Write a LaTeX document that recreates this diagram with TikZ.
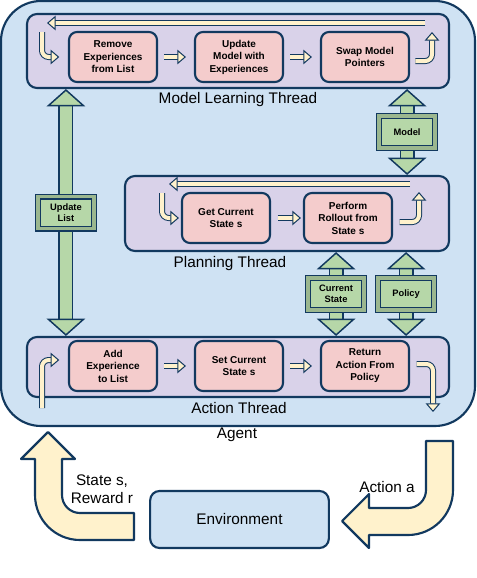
\documentclass[tikz,border=0pt]{standalone}
\usepackage{fontspec}
\setmainfont{Liberation Sans}
\usetikzlibrary{arrows.meta,positioning}

\definecolor{edgeblue}{HTML}{12395F}
\definecolor{agentblue}{HTML}{CFE2F3}
\definecolor{threadlilac}{HTML}{D9D2E9}
\definecolor{taskpink}{HTML}{F4CCCC}
\definecolor{datagreen}{HTML}{B6D7A8}
\definecolor{flowcream}{HTML}{FFF2CC}

\tikzset{
  agentbox/.style={draw=edgeblue, line width=1.6pt, fill=agentblue, rounded corners=30pt, inner sep=0pt},
  threadbox/.style={draw=edgeblue, line width=1.6pt, fill=threadlilac, rounded corners=7.5pt, inner sep=0pt},
  taskbox/.style={draw=edgeblue, line width=1.6pt, fill=taskpink, rounded corners=6pt,
    minimum width=66pt, minimum height=37.5pt, inner sep=1pt, align=center,
    font=\fontsize{7.5}{9.4}\selectfont\bfseries},
  databox/.style={draw=edgeblue, line width=1pt, double=datagreen!85!black, double distance=2.5pt,
    fill=datagreen, minimum width=42pt, minimum height=24pt, inner sep=1pt, align=center,
    font=\fontsize{7}{8.5}\selectfont\bfseries},
  envbox/.style={draw=edgeblue, line width=1.6pt, fill=agentblue, rounded corners=7pt,
    minimum width=134pt, minimum height=42.75pt, font=\fontsize{11.5}{13.5}\selectfont},
  threadname/.style={font=\fontsize{11.5}{13.5}\selectfont, inner sep=0pt},
  flow/.style={draw=edgeblue, line width=0.75pt, double=flowcream, double distance=3pt,
    -{Triangle[length=6.5pt, width=11pt, fill=flowcream, line width=0.75pt]}},
  dataflow/.style={draw=edgeblue, line width=1.1pt, double=datagreen, double distance=9pt,
    {Triangle[length=13pt, width=29pt, fill=datagreen, line width=1.1pt]}-{Triangle[length=13pt, width=29pt, fill=datagreen, line width=1.1pt]}},
  bigflow/.style={draw=edgeblue, line width=1.6pt, fill=flowcream, line join=round}
}

\begin{document}
\begin{tikzpicture}[x=0.75pt, y=-0.75pt]
  \useasboundingbox (0,0) rectangle (476,578);

  % agent
  \node[agentbox, minimum width=355.5pt, minimum height=318.75pt] (agent) at (238,213.5) {};
  \node[threadname] (agentname) at (237,435) {Agent};

  % model learning thread
  \node[threadbox, minimum width=316.5pt, minimum height=55.5pt] (mlt) at (238,51) {};
  \node[threadname] (mltname) at (238,100) {Model Learning Thread};
  \node[taskbox] (remove) at (113,57) {Remove\\Experiences\\from List};
  \node[taskbox] (update) at (239,57) {Update\\Model with\\Experiences};
  \node[taskbox] (swap) at (365,57) {Swap Model\\Pointers};
  \draw[flow] ([xshift=4.5pt]remove.east) -- ([xshift=-6pt]update.west);
  \draw[flow] ([xshift=4.5pt]update.east) -- ([xshift=-6pt]swap.west);
  \coordinate (mlt-r) at (432,32);
  \coordinate (mlt-tr) at (425,23);
  \coordinate (mlt-tl) at (47,23);
  \coordinate (mlt-l) at (42,32);
  \draw[flow, rounded corners=5pt] ([xshift=4pt, yshift=-3pt]swap.east) -| (mlt-r);
  \draw[flow] (mlt-tr) -- (mlt-tl);
  \draw[flow, rounded corners=5pt] (mlt-l) |- ([xshift=-6.5pt]remove.west);

  % planning thread
  \node[threadbox, minimum width=243pt, minimum height=56.25pt] (plt) at (287,213.5) {};
  \node[threadname] (pltname) at (230,264) {Planning Thread};
  \node[taskbox] (getstate) at (226,218) {Get Current\\State s};
  \node[taskbox] (rollout) at (348,218) {Perform\\Rollout from\\State s};
  \draw[flow] ([xshift=5pt]getstate.east) -- ([xshift=-1.5pt]rollout.west);
  \coordinate (plt-r) at (419,192);
  \coordinate (plt-tr) at (410,184);
  \coordinate (plt-tl) at (169,184);
  \coordinate (plt-l) at (162,193);
  \draw[flow, rounded corners=5pt] ([xshift=5pt, yshift=-3pt]rollout.east) -| (plt-r);
  \draw[flow] (plt-tr) -- (plt-tl);
  \draw[flow, rounded corners=5pt] (plt-l) |- ([xshift=-1.5pt]getstate.west);

  % action thread
  \node[threadbox, minimum width=316.5pt, minimum height=45pt] (act) at (238,367) {};
  \node[threadname] (actname) at (239,408) {Action Thread};
  \node[taskbox] (addexp) at (113,366) {Add\\Experience\\to List};
  \node[taskbox] (setstate) at (239,366) {Set Current\\State s};
  \node[taskbox] (retact) at (365,366) {Return\\Action From\\Policy};
  \draw[flow] ([xshift=4.5pt]addexp.east) -- ([xshift=-6pt]setstate.west);
  \draw[flow] ([xshift=4.5pt]setstate.east) -- ([xshift=-6pt]retact.west);
  \coordinate (act-l) at (42,408);
  \coordinate (act-r) at (433,412);
  \draw[flow, rounded corners=5pt] (act-l) |- ([xshift=-6.5pt, yshift=4.5pt]addexp.west);
  \draw[flow, rounded corners=5pt] ([xshift=5pt, yshift=1.5pt]retact.east) -| (act-r);

  % shared data between threads
  \draw[dataflow] ([xshift=30pt]mlt.south west) -- node[databox] (updlist) {Update\\List} ([xshift=30pt]act.north west);
  \draw[dataflow] ([xshift=-32.25pt]mlt.south east) -- node[databox] (model) {Model} ([xshift=-32.25pt]plt.north east);
  \draw[dataflow] ([xshift=-85.5pt]plt.south east) -- node[databox] (curstate) {Current\\State} ([xshift=-85.5pt]act.north east);
  \draw[dataflow] ([xshift=-33pt]plt.south east) -- node[databox] (policy) {Policy} ([xshift=-33pt]act.north east);

  % environment
  \node[envbox] (env) at (239.5,519.5) {Environment};
  \draw[bigflow] (134,513) -- (80,513) arc[start angle=270, end angle=180, radius=13.5pt]
    -- (62,459) -- (75,459) -- (48,432) -- (21,459) -- (35,459) -- (35,495)
    arc[start angle=180, end angle=270, radius=33.75pt] -- (134,540) -- cycle;
  \draw[bigflow] (426,441) -- (426,490) arc[start angle=0, end angle=-90, radius=13.5pt]
    -- (369,508) -- (369,494) -- (342,521) -- (369,548) -- (369,535) -- (408,535)
    arc[start angle=270, end angle=360, radius=33.75pt] -- (453,441) -- cycle;
  \node[threadname, align=center] (staterew) at (102,489) {State s,\\Reward r};
  \node[threadname] (actiona) at (387,487) {Action a};
\end{tikzpicture}
\end{document}
